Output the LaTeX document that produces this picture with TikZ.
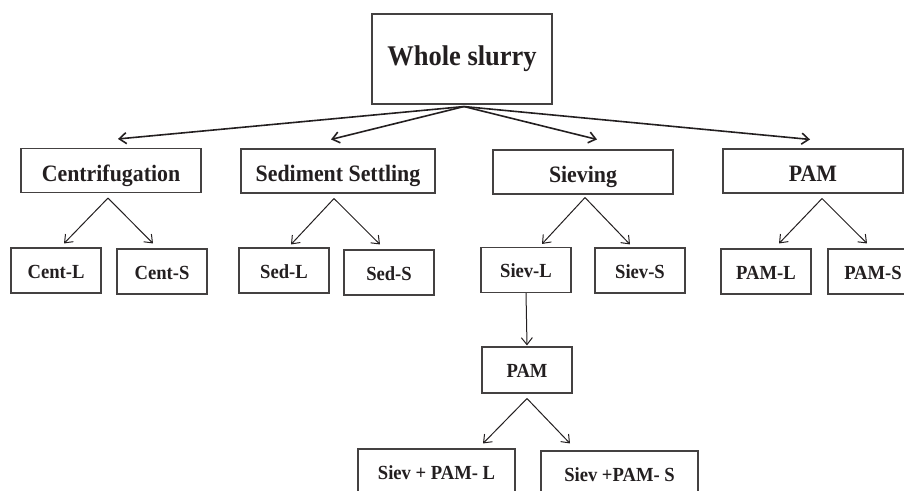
\documentclass[tikz,border=0pt]{standalone}
\usepackage{fontspec}
\setmainfont{Liberation Serif}
\newfontfamily\condfont[FakeStretch=0.93]{Liberation Serif}
\usetikzlibrary{arrows.meta}
\definecolor{ink}{HTML}{231F20}
\begin{document}
\begin{tikzpicture}[x=1pt,y=-1pt,
  nodebox/.style={draw=ink!85, line width=1.1pt, inner sep=0pt, text=ink, anchor=center,
    font=\condfont\bfseries\fontsize{20}{22}\selectfont, minimum width=90pt, minimum height=45pt,
    text height=15.4pt, text depth=0pt},
  lvlbox/.style={nodebox, font=\condfont\bfseries\fontsize{23.5}{25}\selectfont, minimum width=180pt, minimum height=44pt,
    text height=21pt, text depth=0pt},
  topbox/.style={nodebox, font=\condfont\bfseries\fontsize{28.5}{30}\selectfont, minimum width=180pt, minimum height=90pt,
    text height=20pt, text depth=7pt},
  widebox/.style={nodebox, minimum width=157pt, minimum height=46pt},
  arr/.style={-{Straight Barb[length=7pt,width=11pt]}, line width=1.0pt, draw=ink},
  mainarr/.style={arr, line width=1.6pt}]
\useasboundingbox (0,0) rectangle (904,490);

% top
\node[topbox] (whole) at (462,59) {Whole slurry};

% level 1
\node[lvlbox] (cent) at (111,170.5) {Centrifugation};
\node[lvlbox, minimum width=194pt] (sed) at (338,171) {Sediment Settling};
\node[lvlbox] (siev) at (583,172) {Sieving};
\node[lvlbox] (pam) at (813,171) {PAM};

% level 2
\node[nodebox] (centL) at (56,270.5) {Cent-L};
\node[nodebox] (centS) at (162,271.5) {Cent-S};
\node[nodebox] (sedL) at (284,270.5) {Sed-L};
\node[nodebox] (sedS) at (389,272.5) {Sed-S};
\node[nodebox] (sievL) at (526,270) {Siev-L};
\node[nodebox] (sievS) at (640,270.5) {Siev-S};
\node[nodebox] (pamL) at (766,271.5) {PAM-L};
\node[nodebox] (pamS) at (873,271.5) {PAM-S};

% level 3
\node[nodebox, minimum height=46pt] (pamB) at (527,370) {PAM};

% level 4
\node[widebox] (spL) at (436.5,472) {Siev + PAM- L};
\node[widebox] (spS) at (619.5,474) {Siev +PAM- S};

% main arrows
\coordinate (ws) at ([xshift=2pt,yshift=-2pt]whole.south);
\draw[mainarr] (ws) -- ([xshift=7pt,yshift=9pt]cent.north);
\draw[mainarr] (ws) -- ([xshift=-7pt,yshift=9pt]sed.north);
\draw[mainarr] (ws) -- ([xshift=14pt,yshift=10pt]siev.north);
\draw[mainarr] (ws) -- ([xshift=-3pt,yshift=9pt]pam.north);

% centrifugation
\coordinate (ca) at ([xshift=-3pt,yshift=-5pt]cent.south);
\draw[arr] (ca) -- ([xshift=8pt,yshift=4pt]centL.north);
\draw[arr] (ca) -- ([xshift=-9pt,yshift=5pt]centS.north);

% sediment
\coordinate (sa) at ([xshift=-4pt,yshift=-5pt]sed.south);
\draw[arr] (sa) -- ([xshift=7pt,yshift=3pt]sedL.north);
\draw[arr] (sa) -- ([xshift=-9pt,yshift=5pt]sedS.north);

% sieving
\coordinate (va) at ([xshift=2pt,yshift=-3pt]siev.south);
\draw[arr] (va) -- ([xshift=16pt,yshift=3pt]sievL.north);
\draw[arr] (va) -- ([xshift=-10pt,yshift=3pt]sievS.north);

% PAM
\coordinate (pa) at ([xshift=9pt,yshift=-5pt]pam.south);
\draw[arr] (pa) -- ([xshift=13pt,yshift=5pt]pamL.north);
\draw[arr] (pa) -- ([xshift=-6pt,yshift=5pt]pamS.north);

% Siev-L -> PAM
\draw[arr] (sievL.south) -- ([yshift=1pt]pamB.north);

% PAM -> Siev+PAM
\coordinate (ba) at ([yshift=-5pt]pamB.south);
\draw[arr] (ba) -- ([xshift=46.5pt,yshift=5pt]spL.north);
\draw[arr] (ba) -- ([xshift=-49.5pt,yshift=7pt]spS.north);
\end{tikzpicture}
\end{document}
